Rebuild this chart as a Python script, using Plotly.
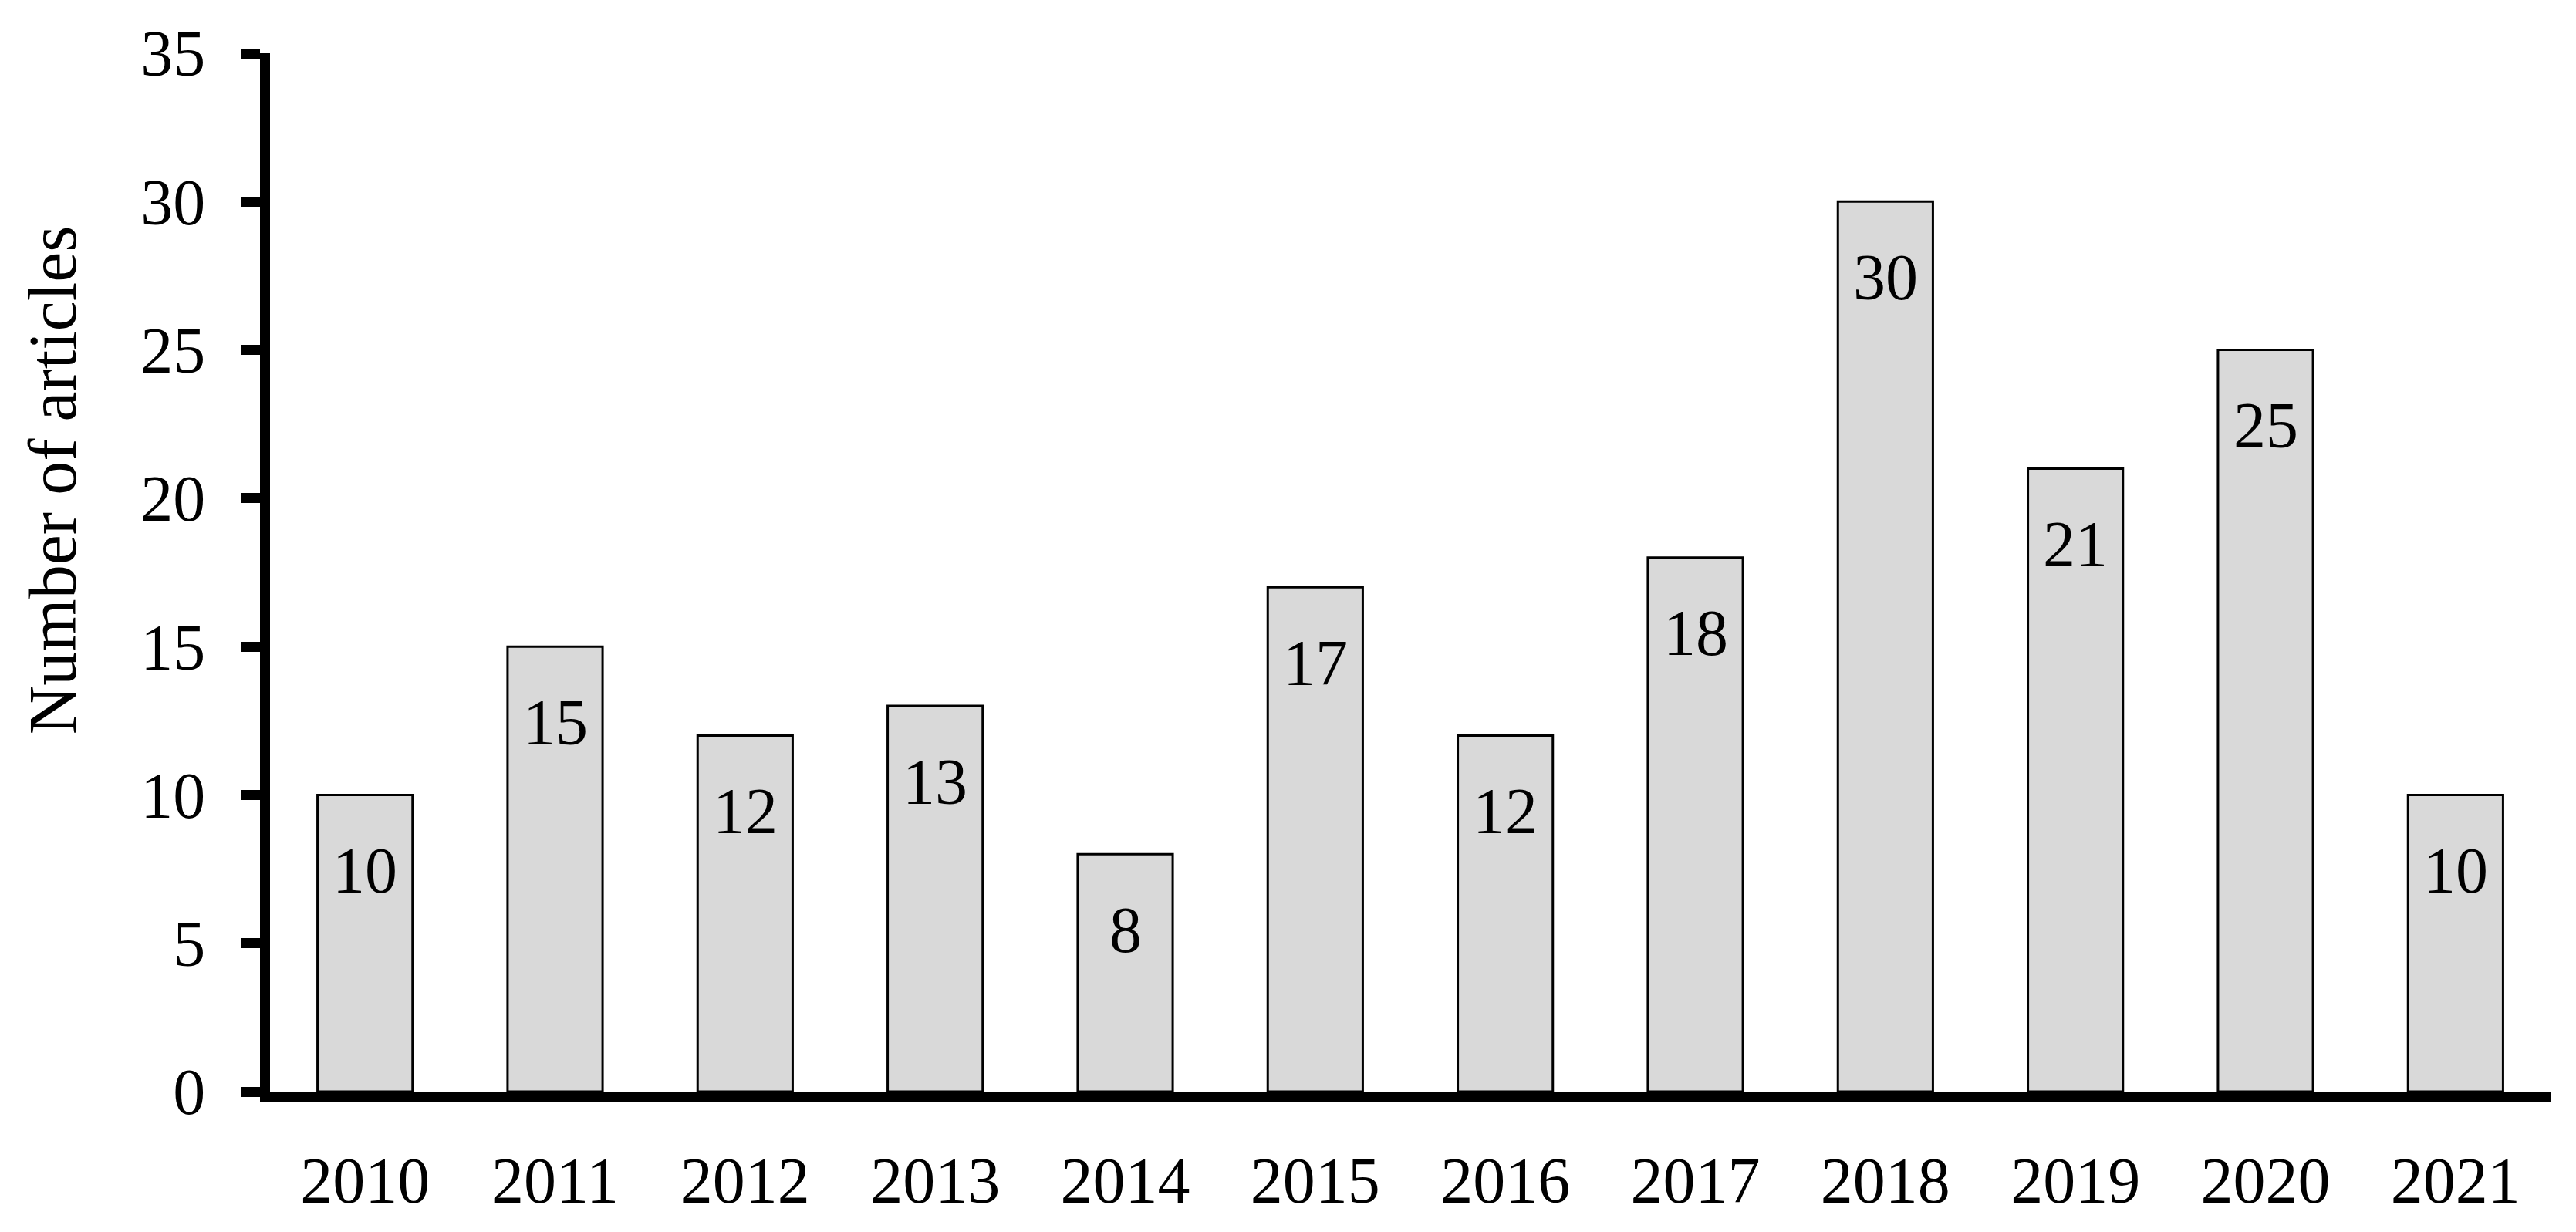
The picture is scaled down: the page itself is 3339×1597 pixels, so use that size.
import plotly.graph_objects as go

years = ["2010", "2011", "2012", "2013", "2014", "2015", "2016", "2017", "2018", "2019", "2020", "2021"]
articles = [10, 15, 12, 13, 8, 17, 12, 18, 30, 21, 25, 10]
y_ticks = [0, 5, 10, 15, 20, 25, 30, 35]

FONT = "Liberation Serif"
FS = 84

fig = go.Figure()
fig.add_trace(go.Bar(
    x=years, y=articles,
    marker=dict(color="#d9d9d9", line=dict(color="black", width=3)),
    width=0.5,
    showlegend=False,
))

annotations = []
for i, v in enumerate(articles):
    annotations.append(dict(
        x=i, y=v, xref="x", yref="y", text=str(v), showarrow=False,
        yanchor="middle", xanchor="center", yshift=-98,
        font=dict(family=FONT, size=FS, color="black"),
    ))
annotations.append(dict(
    x=-0.0954, y=0.589, xref="paper", yref="paper", text="Number of articles",
    showarrow=False, textangle=-90, xanchor="center", yanchor="middle",
    font=dict(family=FONT, size=88, color="black"),
))

fig.update_layout(
    width=3323, height=1581,
    margin=dict(l=342, r=25, t=61, b=174, pad=0),
    paper_bgcolor="white", plot_bgcolor="white",
    font=dict(family=FONT, size=FS, color="black"),
    annotations=annotations,
    xaxis=dict(
        type="category", range=[-0.5, 11.5],
        showline=True, linecolor="black", linewidth=13,
        ticks="", showgrid=False, zeroline=False,
        tickfont=dict(family=FONT, size=FS, color="black"),
        ticklabelstandoff=30,
    ),
    yaxis=dict(
        range=[0, 35], tickvals=y_ticks,
        showline=True, linecolor="black", linewidth=13,
        ticks="outside", ticklen=24, tickwidth=13, tickcolor="black",
        showgrid=False, zeroline=False,
        tickfont=dict(family=FONT, size=FS, color="black"),
        ticklabelstandoff=30,
    ),
)

fig.write_html("out.html")
